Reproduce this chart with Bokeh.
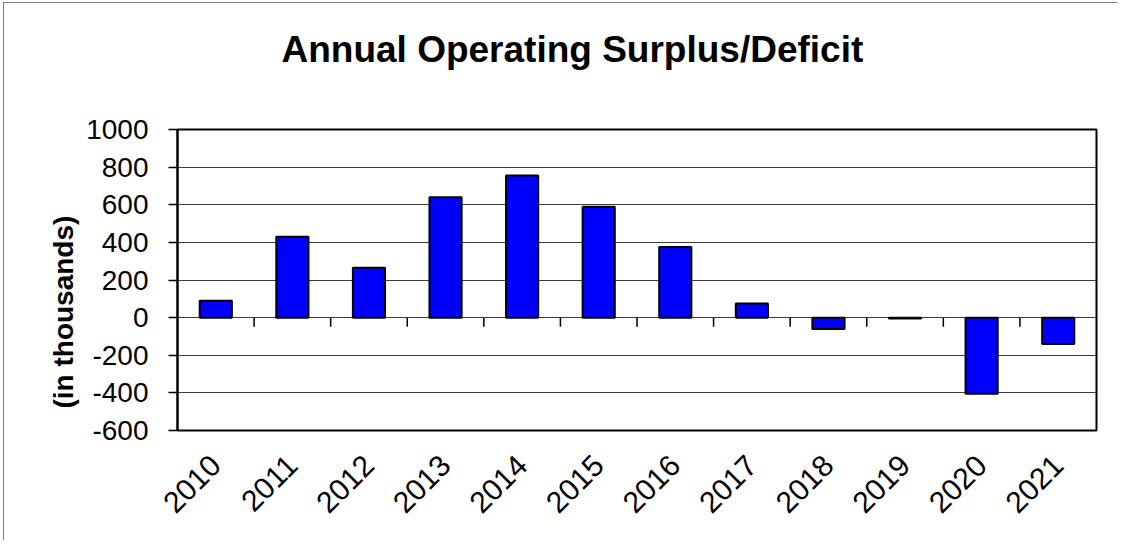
import numpy as np
from math import pi
from bokeh.plotting import figure
from bokeh.models import ColumnDataSource, FixedTicker, Range1d, Title
from bokeh.embed import file_html
from bokeh.resources import INLINE

# ---- data ----
years = ["2010", "2011", "2012", "2013", "2014", "2015",
         "2016", "2017", "2018", "2019", "2020", "2021"]
values = [90, 430, 265, 640, 755, 590, 375, 75, -60, -5, -405, -140]
y_ticks = [-600, -400, -200, 0, 200, 400, 600, 800, 1000]
y_tick_labels = ["-600", "-400", "-200", "0", "200", "400", "600", "800", "1000"]
title_text = "Annual Operating Surplus/Deficit"
y_label_text = "(in thousands)"

FONT = "Liberation Sans"

xc = [i + 0.5 for i in range(len(years))]
src = ColumnDataSource(dict(x=xc, top=values, year=years))

p = figure(width=1114, height=538, margin=(2, 0, 0, 3),
           x_range=Range1d(0, len(years)), y_range=Range1d(y_ticks[0], y_ticks[-1]),
           output_backend="svg", toolbar_location=None,
           min_border_left=174, min_border_right=21,
           min_border_top=127, min_border_bottom=110,
           title=title_text + "\n ")

p.background_fill_color = "white"
p.border_fill_color = "white"
p.outline_line_color = "black"
p.outline_line_width = 2
p.styles = {"outline": "1px solid #555555", "outline-offset": "-1px"}

# title
p.title.text_font = FONT
p.title.text_font_size = "37px"
p.title.text_font_style = "bold"
p.title.text_color = "black"
p.title.align = "left"
p.title.offset = 104
p.title.standoff = 38

# grid
p.xgrid.visible = False
p.ygrid.ticker = FixedTicker(ticks=y_ticks)
p.ygrid.grid_line_color = "#3a3a3a"
p.ygrid.grid_line_width = 1

# bars
p.vbar(x="x", top="top", bottom=0, width=0.42, source=src,
       fill_color="#0000FF", line_color="black", line_width=2)

# ticks on the zero line at category boundaries
bounds = [float(i) for i in range(1, len(years))]
p.segment(x0=bounds, y0=[0] * len(bounds), x1=bounds, y1=[-48] * len(bounds),
          line_color="black", line_width=1.5)

# y axis
yax = p.yaxis[0]
yax.ticker = FixedTicker(ticks=y_ticks)
yax.major_label_overrides = {float(t): s for t, s in zip(y_ticks, y_tick_labels)}
yax.major_label_text_font = FONT
yax.major_label_text_font_size = "28px"
yax.major_label_text_color = "black"
yax.major_tick_out = 9
yax.major_tick_in = 0
yax.minor_tick_out = 0
yax.minor_tick_in = 0
yax.major_tick_line_color = "black"
yax.major_tick_line_width = 1.5
yax.axis_line_color = "black"
yax.axis_line_width = 2
yax.major_label_standoff = 20

# x axis
xax = p.xaxis[0]
xax.ticker = FixedTicker(ticks=xc)
xax.major_label_overrides = {float(x): y for x, y in zip(xc, years)}
xax.major_label_orientation = pi / 4
xax.major_label_text_font = FONT
xax.major_label_text_font_size = "30px"
xax.major_label_text_color = "black"
xax.major_tick_out = 0
xax.major_tick_in = 0
xax.minor_tick_out = 0
xax.minor_tick_in = 0
xax.axis_line_color = None
xax.major_label_standoff = 30

# y axis title (placed in the left panel)
ytitle = Title(text=y_label_text, align="left", offset=22, standoff=10,
               text_font=FONT, text_font_size="28px", text_font_style="bold",
               text_color="black")
p.add_layout(ytitle, "left")

open("out.html", "w").write(file_html(p, INLINE))
